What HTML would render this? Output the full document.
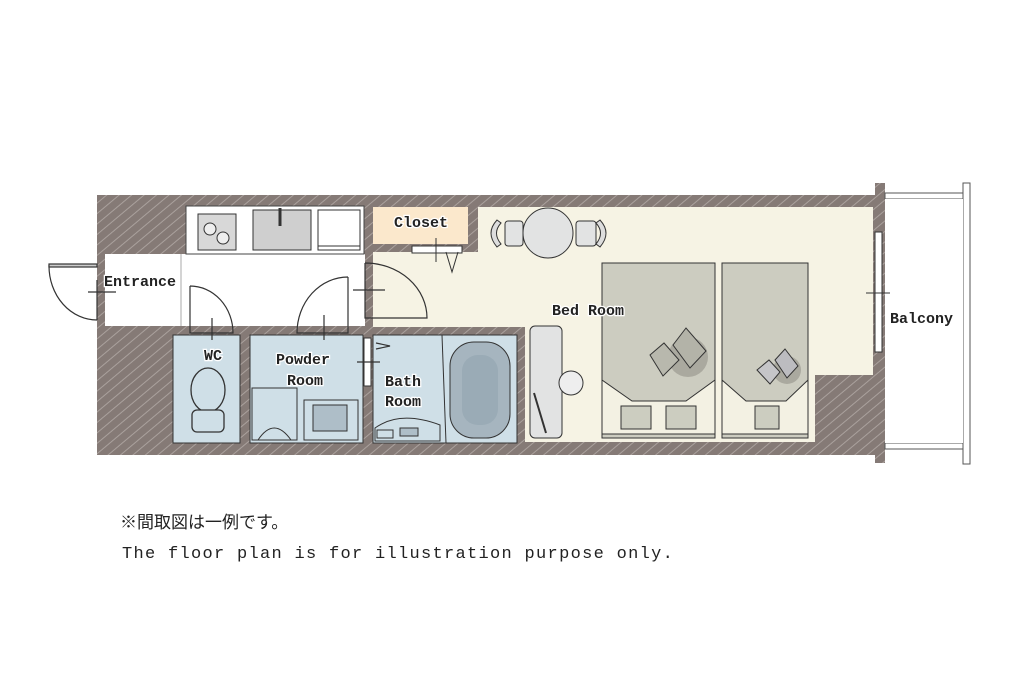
<!DOCTYPE html>
<html><head><meta charset="utf-8"><style>
html,body{margin:0;padding:0;background:#fff}
svg{display:block}
text{font-family:"Liberation Mono","Noto Sans CJK JP",monospace;fill:#222}
.lb{font-weight:bold;paint-order:stroke;stroke:#fff;stroke-width:2.5px}
</style></head><body>
<svg width="1024" height="682" viewBox="0 0 1024 682" xmlns="http://www.w3.org/2000/svg">
<defs>
<pattern id="h" width="8" height="8" patternUnits="userSpaceOnUse" patternTransform="rotate(-40)">
<rect width="8" height="8" fill="#857a76"/><line x1="0" y1="2" x2="8" y2="2" stroke="#aaa19d" stroke-width="1"/>
</pattern>
</defs>
<rect x="97" y="195" width="786" height="260" fill="url(#h)"/>
<rect x="875" y="183" width="10" height="280" fill="url(#h)"/>
<rect x="885" y="193" width="80" height="6" fill="#fff" stroke="#555" stroke-width="1"/>
<rect x="885" y="443" width="80" height="6" fill="#fff" stroke="#555" stroke-width="1"/>
<rect x="963" y="183" width="7" height="281" fill="#fff" stroke="#555" stroke-width="1"/>
<rect x="885" y="199" width="78" height="244" fill="#fff"/>
<rect x="105" y="254" width="260" height="72" fill="#fff"/>
<rect x="186" y="206" width="178" height="48" fill="#fff" stroke="#444" stroke-width="1"/>
<line x1="181" y1="254" x2="181" y2="326" stroke="#aaa"/>
<rect x="198" y="214" width="38" height="36" fill="#d8d8d8" stroke="#333"/>
<circle cx="210" cy="229" r="6" fill="#eee" stroke="#333"/><circle cx="223" cy="238" r="6" fill="#eee" stroke="#333"/>
<rect x="253" y="210" width="58" height="40" fill="#cfcfcf" stroke="#333"/>
<line x1="280" y1="208" x2="280" y2="226" stroke="#333" stroke-width="3"/>
<rect x="318" y="210" width="42" height="40" fill="#fff" stroke="#333"/>
<line x1="318" y1="246" x2="360" y2="246" stroke="#333"/>
<path d="M373 252 H478 V207 H873 V375 H815 V442 H525 V327 H373 Z" fill="#f6f3e4"/>
<rect x="373" y="207" width="95" height="37" fill="#fbe8cc"/>
<rect x="412" y="246" width="50" height="7" fill="#fff" stroke="#333"/>
<line x1="436" y1="238" x2="436" y2="262" stroke="#333"/>
<path d="M446 252 L452 272 L458 252" fill="none" stroke="#333"/>
<rect x="875" y="232" width="7" height="120" fill="#fff" stroke="#333"/>
<line x1="866" y1="293" x2="890" y2="293" stroke="#333"/>
<circle cx="548" cy="233" r="25" fill="#e2e3e3" stroke="#333"/>
<rect x="505" y="221" width="18" height="25" rx="3" fill="#e2e3e3" stroke="#333"/>
<path d="M497 220 Q485 233 497 247 L501 244 Q492 233 501 223Z" fill="#ddd" stroke="#333"/>
<rect x="576" y="221" width="20" height="25" rx="3" fill="#e2e3e3" stroke="#333"/>
<path d="M600 220 Q612 233 600 247 L596 244 Q605 233 596 223Z" fill="#ddd" stroke="#333"/>
<rect x="530" y="326" width="32" height="112" rx="5" fill="#e2e3e3" stroke="#333"/>
<line x1="534" y1="393" x2="546" y2="433" stroke="#333" stroke-width="2"/>
<circle cx="571" cy="383" r="12" fill="#eee" stroke="#333"/>
<rect x="602" y="263" width="113" height="175" fill="#ccccc0" stroke="#333"/>
<path d="M602 380 L632 401 L686 401 L715 380 V434 H602Z" fill="#f3f1e3" stroke="#333"/>
<rect x="621" y="406" width="30" height="23" fill="#cccdc0" stroke="#333"/>
<rect x="666" y="406" width="30" height="23" fill="#cccdc0" stroke="#333"/>
<circle cx="688" cy="357" r="20" fill="#aaa99f"/>
<path d="M650 355 L664 343 L679 360 L663 376Z" fill="#b8b8ad" stroke="#333"/>
<path d="M673 345 L686 328 L706 351 L690 368Z" fill="#b3b3a8" stroke="#333"/>
<rect x="722" y="263" width="86" height="175" fill="#ccccc0" stroke="#333"/>
<path d="M722 380 L746 401 L786 401 L808 380 V434 H722Z" fill="#f3f1e3" stroke="#333"/>
<rect x="755" y="406" width="24" height="23" fill="#cccdc0" stroke="#333"/>
<circle cx="787" cy="370" r="14" fill="#aaa99f"/>
<path d="M757 370 L769 360 L780 372 L770 384Z" fill="#c5c5c8" stroke="#333"/>
<path d="M775 360 L785 349 L798 366 L787 378Z" fill="#bcbcc0" stroke="#333"/>
<rect x="173" y="335" width="67" height="108" fill="#cfdfe7" stroke="#333"/>
<rect x="250" y="335" width="113" height="108" fill="#cfdfe7" stroke="#333"/>
<rect x="373" y="335" width="144" height="108" fill="#cfdfe7" stroke="#333"/>
<ellipse cx="208" cy="390" rx="17" ry="22" fill="#cfdfe7" stroke="#333" stroke-width="1.3"/>
<rect x="192" y="410" width="32" height="22" rx="5" fill="#cfdfe7" stroke="#333" stroke-width="1.3"/>
<rect x="252" y="388" width="45" height="52" fill="#cfdfe7" stroke="#333"/>
<path d="M258 440 Q274 416 291 440" fill="none" stroke="#333"/>
<rect x="304" y="400" width="54" height="40" fill="#cfdfe7" stroke="#333"/>
<rect x="313" y="405" width="34" height="26" fill="#aebec8" stroke="#333"/>
<line x1="442" y1="335" x2="446" y2="443" stroke="#333"/>
<rect x="450" y="342" width="60" height="96" rx="24" fill="#a6b5bf" stroke="#333"/>
<rect x="462" y="355" width="36" height="70" rx="16" fill="#9aabb6"/>
<path d="M375 428 Q400 410 440 425 L440 441 H375Z" fill="#cfdfe7" stroke="#333"/>
<rect x="377" y="430" width="16" height="8" fill="#cfdfe7" stroke="#333"/>
<rect x="400" y="428" width="18" height="8" fill="#aebec8" stroke="#333"/>
<rect x="364" y="338" width="7" height="48" fill="#fff" stroke="#333"/>
<g fill="none" stroke="#333" stroke-width="1.2">
<path d="M97 266 H49 A48 54 0 0 0 97 320"/><rect x="49" y="264" width="48" height="3" fill="#ccc"/>
<line x1="88" y1="292" x2="116" y2="292"/><line x1="97" y1="280" x2="97" y2="320"/>
<path d="M190 286 V333 H233 A43 47 0 0 0 190 286"/>
<line x1="212" y1="318" x2="212" y2="340"/>
<path d="M348 277 V333 H297 A51 56 0 0 1 348 277"/>
<line x1="324" y1="315" x2="324" y2="340"/>
<path d="M365 263 V318 H427 A62 55 0 0 0 365 263"/>
<line x1="353" y1="290" x2="385" y2="290"/>
<path d="M376 343 L390 346 L376 349"/>
<line x1="357" y1="362" x2="380" y2="362"/>
</g>
<g font-size="15" class="lb">
<text x="104" y="286" class="lb">Entrance</text>
<text x="394" y="227" class="lb">Closet</text>
<text x="552" y="315" class="lb">Bed Room</text>
<text x="890" y="323" class="lb">Balcony</text>
<text x="204" y="360" class="lb">WC</text>
<text x="276" y="364" class="lb">Powder</text>
<text x="287" y="385" class="lb">Room</text>
<text x="385" y="386" class="lb">Bath</text>
<text x="385" y="406" class="lb">Room</text>
</g>
<text x="120" y="528" font-size="17">※間取図は一例です。</text>
<text x="122" y="558" font-size="17" letter-spacing="1.3">The floor plan is for illustration purpose only.</text>
</svg>
</body></html>
